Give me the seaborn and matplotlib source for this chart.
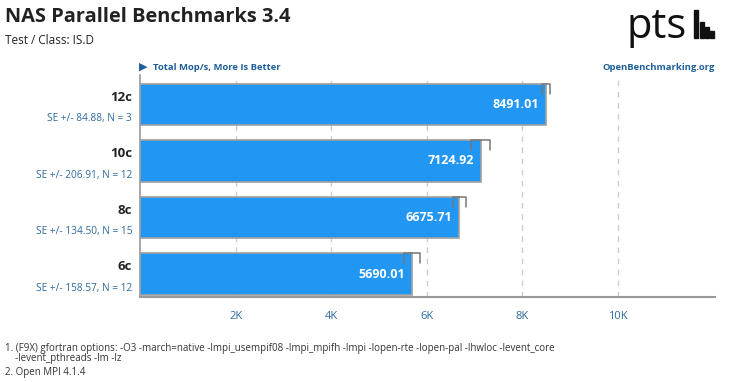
import pandas as pd
import seaborn as sns
import matplotlib.pyplot as plt
from matplotlib.patches import Rectangle

# NAS Parallel Benchmarks 3.4 - IS.D
configs = ['12c', '10c', '8c', '6c']
mops = [8491.01, 7124.92, 6675.71, 5690.01]
se = [84.88, 206.91, 134.50, 158.57]
runs = [3, 12, 15, 12]
xticks = [2000, 4000, 6000, 8000, 10000]
xtick_labels = ['2K', '4K', '6K', '8K', '10K']
footnotes = [
    '1. (F9X) gfortran options: -O3 -march=native -lmpi_usempif08 -lmpi_mpifh -lmpi -lopen-rte -lopen-pal -lhwloc -levent_core',
    '    -levent_pthreads -lm -lz',
    '2. Open MPI 4.1.4',
]

data = pd.DataFrame({'config': configs, 'mops': mops, 'se': se, 'n': runs})

sns.set_style('white')
plt.rcParams['font.family'] = ['Open Sans', 'DejaVu Sans']

fig = plt.figure(figsize=(7.33, 3.82), dpi=100)
ax = fig.add_axes([140 / 733, 1 - 297 / 382, 575 / 733, 222 / 382])

sns.barplot(data=data, x='mops', y='config', orient='h', order=configs,
            color='#2196f3', saturation=1, width=0.74, edgecolor='#a0a0a0',
            linewidth=1.2, errorbar=None, ax=ax, zorder=3)

ax.set_xlim(0, 12030)
ax.set_ylim(3.407, -0.522)
ax.set_xlabel('')
ax.set_ylabel('')

# dashed grid
for x in xticks:
    ax.axvline(x, color='#cccccc', linestyle=(0, (4, 4)), linewidth=1, zorder=1)

# spines
for s in ['top', 'right']:
    ax.spines[s].set_visible(False)
ax.spines['left'].set_color('#999999')
ax.spines['bottom'].set_color('#999999')
ax.spines['bottom'].set_linewidth(1.5)
ax.spines['left'].set_linewidth(1.2)

ax.set_xticks(xticks)
ax.set_xticklabels(xtick_labels, color='#2c6aa0', fontsize=8)
ax.tick_params(axis='x', length=6, color='#cccccc', pad=4)

# category boundary ticks
ax.set_yticks([0.5, 1.5, 2.5], minor=True)
ax.set_yticks([])
ax.tick_params(axis='y', which='minor', length=7, color='#888888', direction='inout', width=1)

# labels on the left, values inside the bars, SE brackets
for i, row in data.iterrows():
    ax.text(-0.0135 * 12030, i - 0.13, row['config'], ha='right', va='center',
            fontsize=9.5, color='#222222', fontweight='bold')
    ax.text(-0.0135 * 12030, i + 0.25, f"SE +/- {row['se']:.2f}, N = {row['n']}",
            ha='right', va='center', fontsize=7.3, color='#2c6aa0')
    ax.text(row['mops'] - 140, i, f"{row['mops']:.2f}", ha='right', va='center',
            fontsize=9, color='white', fontweight='bold', zorder=5)
    lo, hi = row['mops'] - row['se'], row['mops'] + row['se']
    top = i - 0.37
    ax.plot([lo, lo, hi, hi], [top + 0.18, top, top, top + 0.18],
            color='#777777', linewidth=1.1, zorder=4, clip_on=False)

# header texts
fig.text(5 / 733, 1 - 17 / 382, 'NAS Parallel Benchmarks 3.4', fontsize=14.4,
         fontweight='bold', color='#222222', va='center')
fig.text(5 / 733, 1 - 40 / 382, 'Test / Class: IS.D', fontsize=8.5,
         color='#222222', va='center')
fig.text(139 / 733, 1 - 67 / 382, '\u25B6', fontsize=8, color='#1f5f99', va='center',
         family='DejaVu Sans')
fig.text(153 / 733, 1 - 67 / 382, 'Total Mop/s, More Is Better', fontsize=6.8,
         fontweight='bold', color='#1f5f99', va='center')
fig.text(715 / 733, 1 - 67 / 382, 'OpenBenchmarking.org', fontsize=6.8,
         fontweight='bold', color='#1f5f99', va='center', ha='right')

# logo
fig.text(627 / 733, 1 - 38 / 382, 'pts', fontsize=30, color='#111111',
         va='baseline', ha='left')
fig.patches.append(Rectangle((694 / 733, 1 - 38 / 382), 4 / 733, 28 / 382,
                             transform=fig.transFigure, color='#111111'))
for k, h in enumerate([16, 11, 7]):
    fig.patches.append(Rectangle(((700 + k * 5) / 733, 1 - 38 / 382), 3.5 / 733, h / 382,
                                 transform=fig.transFigure, color='#111111'))

for k, line in enumerate(footnotes):
    fig.text(5 / 733, 1 - [348, 358, 373][k] / 382, line, fontsize=7,
             color='#333333', va='center')

plt.savefig('out.png', dpi=100)
